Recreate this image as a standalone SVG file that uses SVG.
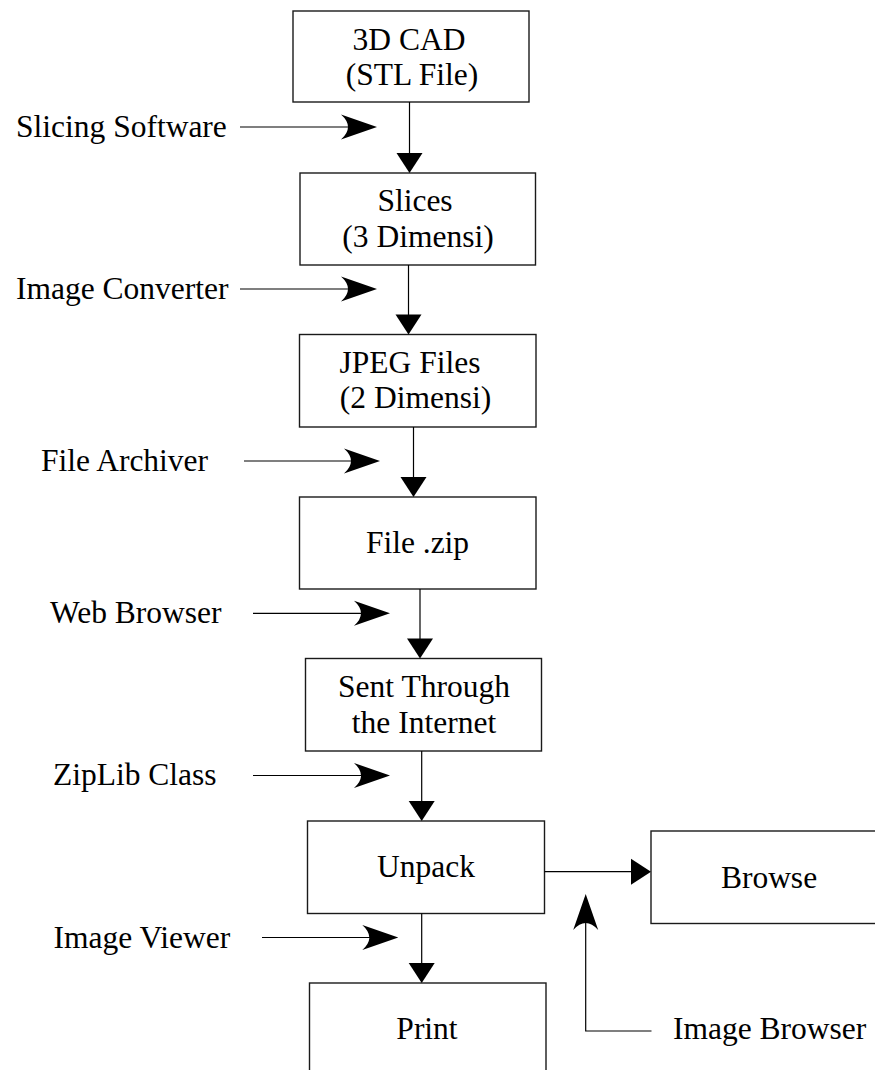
<svg xmlns="http://www.w3.org/2000/svg" width="875" height="1070" viewBox="0 0 875 1070">
<style>
.box{fill:#fff;stroke:#1a1a1a;stroke-width:1.4}
.t{font-family:"Liberation Serif","Times New Roman",serif;font-size:31.5px;fill:#000}
.c{text-anchor:middle}
.ln{stroke:#000;stroke-width:1.2;fill:none}
.hd{fill:#000;stroke:none}
</style>
<defs>
<path id="barb" d="M0,0 L-36,-12.5 Q-22,0 -36,12.5 Z"/>
<path id="tri" d="M0,0 L-20,-13 L-20,13 Z"/>
</defs>
<rect width="875" height="1070" fill="#fff"/>

<g id="n1"><rect class="box" x="293" y="11" width="236" height="91"/><text class="t c" x="409" y="50">3D CAD</text><text class="t c" x="412" y="85">(STL File)</text></g>
<g id="n2"><rect class="box" x="300" y="173" width="235.5" height="92"/><text class="t c" x="415" y="210.5">Slices</text><text class="t c" x="418" y="246.5">(3 Dimensi)</text></g>
<g id="n3"><rect class="box" x="299.5" y="334.5" width="236.5" height="92.5"/><text class="t c" x="410" y="373">JPEG Files</text><text class="t c" x="415.5" y="408">(2 Dimensi)</text></g>
<g id="n4"><rect class="box" x="299.5" y="497" width="236.5" height="92"/><text class="t c" x="417.5" y="553">File .zip</text></g>
<g id="n5"><rect class="box" x="305.5" y="658.5" width="236" height="92.5"/><text class="t c" x="424" y="697">Sent Through</text><text class="t c" x="424" y="733">the Internet</text></g>
<g id="n6"><rect class="box" x="307.5" y="821" width="237" height="92.5"/><text class="t c" x="426" y="877">Unpack</text></g>
<g id="n7"><rect class="box" x="651" y="831" width="230" height="92.5"/><text class="t c" x="769" y="888">Browse</text></g>
<g id="n8"><rect class="box" x="309.5" y="983" width="236.5" height="100"/><text class="t c" x="427" y="1039">Print</text></g>

<g id="labels">
<text class="t" x="16" y="137">Slicing Software</text>
<text class="t" x="16" y="298.5">Image Converter</text>
<text class="t" x="41" y="471">File Archiver</text>
<text class="t" x="50" y="623">Web Browser</text>
<text class="t" x="53" y="785">ZipLib Class</text>
<text class="t" x="53.5" y="947.5">Image Viewer</text>
<text class="t" x="673" y="1038.5">Image Browser</text>
</g>

<g id="connectors">
<line class="ln" x1="409.5" y1="102" x2="409.5" y2="155"/>
<use href="#tri" transform="translate(409.5,173) rotate(90)" class="hd"/>
<line class="ln" x1="408.5" y1="265" x2="408.5" y2="316"/>
<use href="#tri" transform="translate(408.5,334.5) rotate(90)" class="hd"/>
<line class="ln" x1="413.5" y1="427" x2="413.5" y2="479"/>
<use href="#tri" transform="translate(413.5,497) rotate(90)" class="hd"/>
<line class="ln" x1="420" y1="589" x2="420" y2="641"/>
<use href="#tri" transform="translate(420,658.5) rotate(90)" class="hd"/>
<line class="ln" x1="421.7" y1="751" x2="421.7" y2="803"/>
<use href="#tri" transform="translate(421.7,821) rotate(90)" class="hd"/>
<line class="ln" x1="421.7" y1="913.5" x2="421.7" y2="965"/>
<use href="#tri" transform="translate(421.7,983) rotate(90)" class="hd"/>

<line class="ln" x1="544.5" y1="871.7" x2="633" y2="871.7"/>
<use href="#tri" transform="translate(651,871.7)" class="hd"/>

<line class="ln" x1="240" y1="127" x2="350" y2="127"/>
<use href="#barb" transform="translate(377,127)" class="hd"/>
<line class="ln" x1="240" y1="289" x2="350" y2="289"/>
<use href="#barb" transform="translate(377,289)" class="hd"/>
<line class="ln" x1="244" y1="461" x2="353" y2="461"/>
<use href="#barb" transform="translate(380,461)" class="hd"/>
<line class="ln" x1="253" y1="613.3" x2="363" y2="613.3"/>
<use href="#barb" transform="translate(390,613.3)" class="hd"/>
<line class="ln" x1="253" y1="775.5" x2="363" y2="775.5"/>
<use href="#barb" transform="translate(390,775.5)" class="hd"/>
<line class="ln" x1="262" y1="937.5" x2="371" y2="937.5"/>
<use href="#barb" transform="translate(398.3,937.5)" class="hd"/>

<polyline class="ln" points="651.5,1031 585.7,1031 585.7,920"/>
<use href="#barb" transform="translate(585.7,894) rotate(-90)" class="hd"/>
</g>
</svg>
